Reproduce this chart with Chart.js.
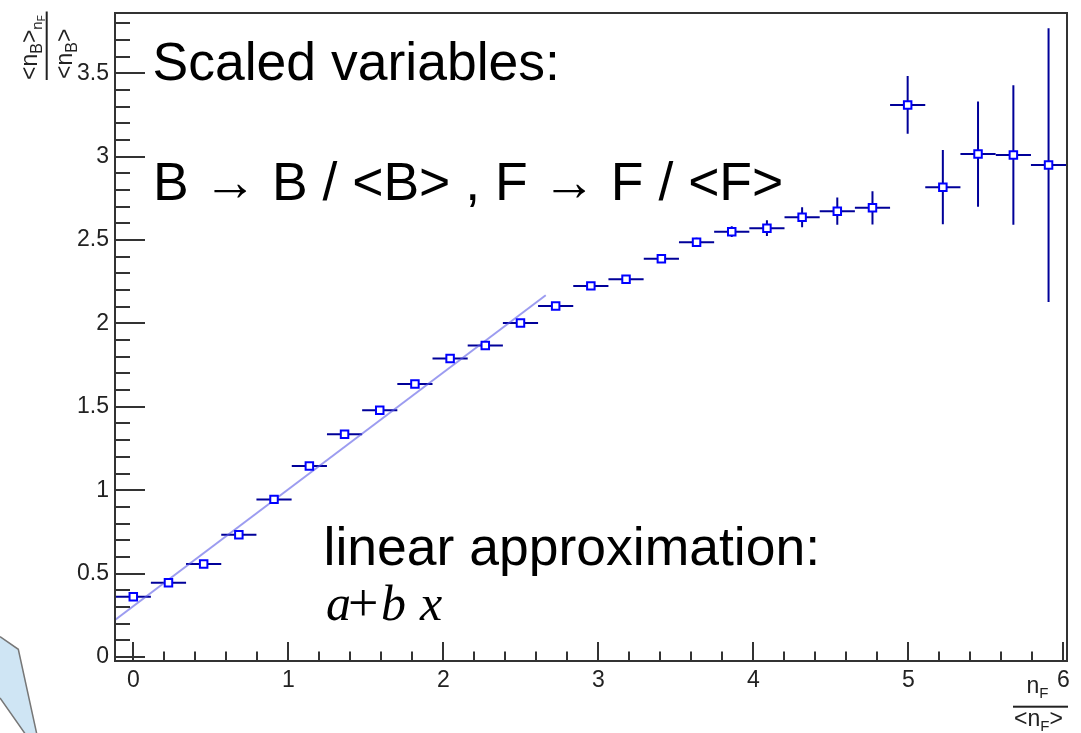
<!DOCTYPE html>
<html>
<head>
<meta charset="utf-8">
<script src="https://cdn.jsdelivr.net/npm/chart.js@4/dist/chart.umd.min.js"></script>
<style>
html,body{margin:0;padding:0;background:#ffffff;}
canvas{display:block;}
</style>
</head>
<body>
<canvas id="c" width="1081" height="733"></canvas>
<script>
// ---- data ----
const binCenters = [0.000, 0.227, 0.454, 0.681, 0.908, 1.136, 1.363, 1.590, 1.817,
  2.044, 2.271, 2.498, 2.725, 2.952, 3.179, 3.407, 3.634, 3.861, 4.088,
  4.315, 4.542, 4.769, 4.996, 5.223, 5.450, 5.678, 5.905];
const ratioValues = [0.361, 0.445, 0.557, 0.733, 0.945, 1.145, 1.335, 1.480, 1.636,
  1.790, 1.868, 2.002, 2.105, 2.225, 2.264, 2.387, 2.487, 2.550, 2.571,
  2.637, 2.673, 2.693, 3.310, 2.817, 3.015, 3.010, 2.949];
const ratioErrors = [0.008, 0.009, 0.010, 0.011, 0.012, 0.013, 0.014, 0.016, 0.017,
  0.018, 0.019, 0.020, 0.021, 0.022, 0.022, 0.024, 0.026, 0.032, 0.047,
  0.060, 0.082, 0.100, 0.173, 0.223, 0.315, 0.418, 0.820];
const binHalfWidth = 0.1135;
const fitX = [-0.118, 2.661];
const fitY = [0.222, 2.169];
const xTickLabels = [0, 1, 2, 3, 4, 5, 6];
const yTickLabels = [0, 0.5, 1, 1.5, 2, 2.5, 3, 3.5];
const xRange = [-0.118, 6.024];
const yRange = [-0.024, 3.861];

function drawRich(ctx, x, y, segs) {
  let cx = x;
  segs.forEach(s => {
    ctx.font = (s.style || '') + ' ' + s.size + 'px "Liberation Sans"';
    ctx.fillText(s.t, cx, y + (s.dy || 0));
    cx += ctx.measureText(s.t).width;
  });
  return cx;
}

const rootPlugin = {
  id: 'rootStyle',
  beforeDatasetsDraw(chart) {
    const {ctx, chartArea: a, scales: {x, y}} = chart;
    ctx.save();
    ctx.beginPath();
    ctx.rect(a.left, a.top, a.right - a.left, a.bottom - a.top);
    ctx.clip();
    ctx.strokeStyle = '#000099';
    ctx.lineWidth = 2;
    binCenters.forEach((xc, i) => {
      const px = x.getPixelForValue(xc);
      const py = y.getPixelForValue(ratioValues[i]);
      const x0 = x.getPixelForValue(xc - binHalfWidth);
      const x1 = x.getPixelForValue(xc + binHalfWidth);
      const y0 = y.getPixelForValue(ratioValues[i] - ratioErrors[i]);
      const y1 = y.getPixelForValue(ratioValues[i] + ratioErrors[i]);
      ctx.beginPath();
      ctx.moveTo(x0, py); ctx.lineTo(x1, py);
      ctx.moveTo(px, y0); ctx.lineTo(px, y1);
      ctx.stroke();
    });
    ctx.restore();
  },
  afterDraw(chart) {
    const {ctx, chartArea: a, scales: {x, y}} = chart;
    ctx.save();
    // frame
    ctx.strokeStyle = '#333333';
    ctx.lineWidth = 2;
    ctx.strokeRect(a.left, a.top, a.right - a.left, a.bottom - a.top);
    // x ticks (inside)
    ctx.beginPath();
    for (let k = 0; k <= 30; k++) {
      const v = k * 0.2;
      if (v < xRange[0] || v > xRange[1]) continue;
      const px = Math.round(x.getPixelForValue(v));
      const len = (k % 5 === 0) ? 19 : 9.5;
      ctx.moveTo(px, a.bottom);
      ctx.lineTo(px, a.bottom - len);
    }
    // y ticks (inside)
    for (let k = 0; k <= 38; k++) {
      const v = k * 0.1;
      if (v < yRange[0] || v > yRange[1]) continue;
      const py = Math.round(y.getPixelForValue(v));
      const len = (k % 5 === 0) ? 30 : 15;
      ctx.moveTo(a.left, py);
      ctx.lineTo(a.left + len, py);
    }
    ctx.stroke();

    // annotations
    ctx.fillStyle = '#000000';
    ctx.textBaseline = 'alphabetic';
    ctx.textAlign = 'left';
    ctx.font = '53.5px "Liberation Sans"';
    ctx.fillText('Scaled variables:', 152.5, 80);
    ctx.fillText('B \u2192 B / <B> , F \u2192 F / <F>', 153, 200);
    ctx.fillText('linear approximation:', 323.5, 565);
    ctx.font = 'italic 50px "Liberation Serif"';
    ctx.fillText('a', 326, 620);
    ctx.fillText('b', 381, 620);
    ctx.fillText('x', 420, 620);
    ctx.font = '54px "Liberation Serif"';
    ctx.fillText('+', 348, 621);

    // y axis title (rotated fraction)
    ctx.fillStyle = '#222222';
    ctx.save();
    ctx.translate(0, 80);
    ctx.rotate(-Math.PI / 2);
    drawRich(ctx, 0, 37, [
      {t: '<', size: 23}, {t: 'n', size: 23}, {t: 'B', size: 16, dy: 5},
      {t: '>', size: 23}, {t: 'n', size: 15, dy: 5}, {t: 'F', size: 10, dy: 8}
    ]);
    drawRich(ctx, 1, 72, [
      {t: '<', size: 23}, {t: 'n', size: 23}, {t: 'B', size: 16, dy: 5}, {t: '>', size: 23}
    ]);
    ctx.fillRect(0, 45.7, 68.5, 2);
    ctx.restore();

    // x axis title (fraction)
    drawRich(ctx, 1026.5, 693, [{t: 'n', size: 23}, {t: 'F', size: 15, dy: 5}]);
    ctx.fillRect(1013, 705.7, 55, 2);
    drawRich(ctx, 1014, 726, [
      {t: '<', size: 23}, {t: 'n', size: 23}, {t: 'F', size: 15, dy: 5}, {t: '>', size: 23}
    ]);

    // decorative light blue shape at bottom-left
    ctx.beginPath();
    ctx.moveTo(0, 636.7);
    ctx.lineTo(18.3, 649.3);
    ctx.lineTo(37, 735);
    ctx.lineTo(26, 735);
    ctx.lineTo(0, 698);
    ctx.closePath();
    ctx.fillStyle = '#cfe5f4';
    ctx.fill();
    ctx.strokeStyle = '#777777';
    ctx.lineWidth = 1.5;
    ctx.beginPath();
    ctx.moveTo(0, 636.7); ctx.lineTo(18.3, 649.3); ctx.lineTo(37, 735);
    ctx.moveTo(0, 698); ctx.lineTo(26, 735);
    ctx.stroke();
    ctx.restore();
  }
};

const tickFont = {family: 'Liberation Sans', size: 23};

new Chart(document.getElementById('c').getContext('2d'), {
  type: 'scatter',
  data: {
    datasets: [
      {
        label: 'data',
        data: binCenters.map((v, i) => ({x: v, y: ratioValues[i]})),
        pointStyle: 'rect',
        pointRadius: 5.3,
        pointHoverRadius: 5.3,
        pointBorderColor: '#0000ff',
        pointBackgroundColor: '#ffffff',
        pointBorderWidth: 2,
        showLine: false
      },
      {
        label: 'fit',
        data: fitX.map((v, i) => ({x: v, y: fitY[i]})),
        showLine: true,
        borderColor: 'rgba(90,90,230,0.6)',
        borderWidth: 2,
        pointRadius: 0,
        fill: false
      }
    ]
  },
  options: {
    responsive: false,
    animation: false,
    devicePixelRatio: 1,
    events: [],
    layout: {padding: {top: 13, right: 14, left: 0, bottom: 0}},
    plugins: {legend: {display: false}, tooltip: {enabled: false}},
    scales: {
      x: {
        type: 'linear', min: xRange[0], max: xRange[1],
        grid: {display: false, drawTicks: false},
        border: {display: false},
        afterBuildTicks: s => { s.ticks = xTickLabels.map(v => ({value: v})); },
        afterFit: s => { s.height = 72; s.paddingLeft = 0; s.paddingRight = 0; },
        ticks: {padding: 6, font: tickFont, color: '#222222', autoSkip: false, maxRotation: 0,
          callback: v => String(v)}
      },
      y: {
        type: 'linear', min: yRange[0], max: yRange[1],
        grid: {display: false, drawTicks: false},
        border: {display: false},
        afterBuildTicks: s => { s.ticks = yTickLabels.map(v => ({value: v})); },
        afterFit: s => { s.width = 115; s.paddingTop = 0; s.paddingBottom = 0; },
        ticks: {padding: 6, font: tickFont, color: '#222222', autoSkip: false,
          callback: v => String(v)}
      }
    }
  },
  plugins: [rootPlugin]
});
</script>
</body>
</html>
